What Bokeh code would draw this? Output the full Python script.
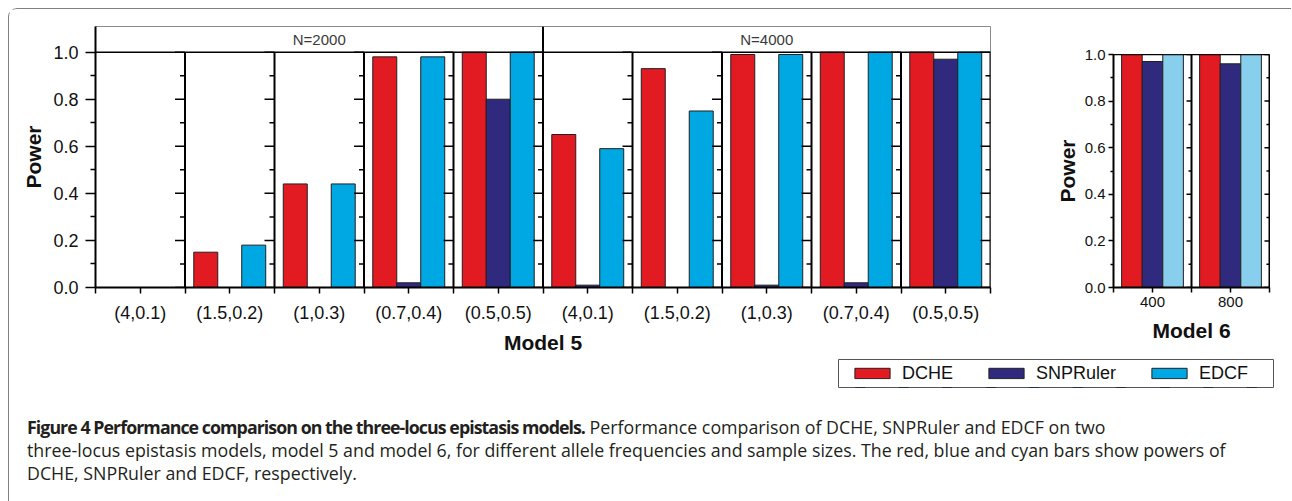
from bokeh.plotting import figure
from bokeh.models import (Range1d, FixedTicker, CustomJSTickFormatter, NumeralTickFormatter,
                          Span, Legend, LegendItem, Spacer, Div)
from bokeh.layouts import row, column
from bokeh.embed import file_html
from bokeh.resources import INLINE
from bokeh.core.properties import value

# ---------------- data ----------------
M5_GROUPS = ["N=2000", "N=4000"]
M5_PARAMS = ["(4,0.1)", "(1.5,0.2)", "(1,0.3)", "(0.7,0.4)", "(0.5,0.5)"]
M5_DCHE = [0.00, 0.15, 0.44, 0.98, 1.00, 0.65, 0.93, 0.99, 1.00, 1.00]
M5_SNPRULER = [0.00, 0.00, 0.00, 0.02, 0.80, 0.01, 0.00, 0.01, 0.02, 0.97]
M5_EDCF = [0.00, 0.18, 0.44, 0.98, 1.00, 0.59, 0.75, 0.99, 1.00, 1.00]

M6_SIZES = ["400", "800"]
M6_DCHE = [1.00, 1.00]
M6_SNPRULER = [0.97, 0.96]
M6_EDCF = [1.00, 1.00]

SERIES = ["DCHE", "SNPRuler", "EDCF"]
Y_TICKS = [0.0, 0.2, 0.4, 0.6, 0.8, 1.0]
Y_MINOR = [0.1, 0.3, 0.5, 0.7, 0.9]

# ---------------- style ----------------
FONT = "Liberation Sans"
RED = "#E21B22"
NAVY = "#2F2A7E"
CYAN = "#00A8E3"
SKY = "#88CFEE"
EDGE = "#231F20"
M5_COLORS = [RED, NAVY, CYAN]
M6_COLORS = [RED, NAVY, SKY]


def style_axes(p, tick_font, xlabel, x_tick_out, y_tick_out, y_minor_out,
               x_standoff, xl_standoff, y_standoff, yl_standoff):
    p.xgrid.visible = False
    p.ygrid.visible = False
    xa = p.xaxis[0]
    xa.major_tick_out = x_tick_out
    xa.major_tick_in = 0
    xa.minor_tick_line_color = None
    xa.axis_line_width = 2
    xa.major_tick_line_width = 1.5
    xa.major_label_text_font = FONT
    xa.major_label_text_font_size = tick_font
    xa.major_label_text_color = "#111111"
    xa.major_label_standoff = x_standoff
    xa.axis_label = xlabel
    xa.axis_label_text_font = FONT
    xa.axis_label_text_font_style = "bold"
    xa.axis_label_text_font_size = "21px"
    xa.axis_label_text_color = "#111111"
    xa.axis_label_standoff = xl_standoff
    ya = p.yaxis[0]
    ya.ticker = FixedTicker(ticks=Y_TICKS, minor_ticks=Y_MINOR)
    ya.formatter = NumeralTickFormatter(format="0.0")
    ya.major_tick_out = y_tick_out
    ya.major_tick_in = 0
    ya.minor_tick_out = y_minor_out
    ya.minor_tick_in = 0
    ya.axis_line_width = 2
    ya.major_tick_line_width = 1.5
    ya.minor_tick_line_width = 1.5
    ya.major_label_text_font = FONT
    ya.major_label_text_font_size = tick_font
    ya.major_label_text_color = "#111111"
    ya.major_label_standoff = y_standoff
    ya.axis_label = "Power"
    ya.axis_label_text_font = FONT
    ya.axis_label_text_font_style = "bold"
    ya.axis_label_text_font_size = "21px"
    ya.axis_label_text_color = "#111111"
    ya.axis_label_standoff = yl_standoff


def facet_panels(p, n, labels, series_vals, colors, bar_w, ppu, tick_len, minor_len):
    # bars (three series dodged inside each panel)
    rs = []
    for k, (vals, col) in enumerate(zip(series_vals, colors)):
        xs = [i + 0.5 + (k - 1) * bar_w for i in range(n)]
        rs.append(p.vbar(x=xs, top=vals, bottom=0, width=bar_w, fill_color=col,
                         line_color=EDGE, line_width=1))
    # panel borders with inward-pointing y ticks
    edges = list(range(1, n + 1))
    p.segment(x0=edges, y0=[0] * n, x1=edges, y1=[1] * n, line_color="black", line_width=2)
    tx0, tx1, ty = [], [], []
    for e in edges:
        for t in Y_TICKS:
            tx0.append(e); tx1.append(e - tick_len / ppu); ty.append(t)
        for t in Y_MINOR:
            tx0.append(e); tx1.append(e - minor_len / ppu); ty.append(t)
    p.segment(x0=tx0, y0=ty, x1=tx1, y1=ty, line_color="black", line_width=1.5)
    p.add_layout(Span(location=1.0, dimension="width", line_color="black", line_width=1.5))
    # x ticks at panel borders and centres, labels at centres
    xa = p.xaxis[0]
    xa.ticker = FixedTicker(ticks=[k * 0.5 for k in range(2 * n + 1)])
    xa.formatter = CustomJSTickFormatter(
        args=dict(labels=labels),
        code="const k = Math.round(tick * 2); return (k % 2 === 1) ? labels[(k - 1) / 2] : '';")
    return rs


# ---------------- Model 5 ----------------
n5 = len(M5_DCHE)
m5_labels = [prm for g in M5_GROUPS for prm in M5_PARAMS]
F5_W = 895
ppu5 = F5_W / n5
HEAD_TOP = 1.109

p5 = figure(width=991, height=348, x_range=Range1d(0, n5), y_range=Range1d(0, HEAD_TOP),
            min_border_left=86, min_border_right=10, min_border_top=17, min_border_bottom=70,
            output_backend="svg", toolbar_location=None, title=None,
            outline_line_color="#8a8a8a", outline_line_width=1)
style_axes(p5, "18px", "Model 5", 6, 10, 5, 9, 5, 7, 5)
facet_panels(p5, n5, m5_labels, [M5_DCHE, M5_SNPRULER, M5_EDCF], M5_COLORS,
             0.268, ppu5, 10, 5)
# header strip with sample-size groups
split = [len(M5_PARAMS) * g for g in range(1, len(M5_GROUPS))]
p5.segment(x0=split, y0=[1.0] * len(split), x1=split, y1=[HEAD_TOP] * len(split),
           line_color="black", line_width=2)
hx = [len(M5_PARAMS) * (g + 0.5) for g in range(len(M5_GROUPS))]
p5.text(x=hx, y=[(1.0 + HEAD_TOP) / 2] * len(hx), text=M5_GROUPS,
        text_align="center", text_baseline="middle", text_font=value(FONT),
        text_font_size=value("15px"), text_color="#3a3a3a")

# ---------------- Model 6 ----------------
n6 = len(M6_DCHE)
F6_W = 156
ppu6 = F6_W / n6
p6 = figure(width=274, height=320, x_range=Range1d(0, n6), y_range=Range1d(0, 1.0),
            min_border_left=113, min_border_right=5, min_border_top=17, min_border_bottom=70,
            output_backend="svg", toolbar_location=None, title=None,
            outline_line_color="black", outline_line_width=1)
style_axes(p6, "15px", "Model 6", 5, 5, 3, 4, 9, 3, 3)
facet_panels(p6, n6, M6_SIZES, [M6_DCHE, M6_SNPRULER, M6_EDCF], M6_COLORS,
             0.264, ppu6, 5, 3)

# ---------------- legend ----------------
# legend strip: its renderers hold the Model 5 series, but the strip's y range
# lies above them, so only the legend box is visible here
pl = figure(width=437, height=31, x_range=Range1d(0, n5), y_range=Range1d(2, 3),
            min_border_left=1, min_border_right=1, min_border_top=2, min_border_bottom=1,
            x_axis_type=None, y_axis_type=None, output_backend="svg", toolbar_location=None,
            title=None, outline_line_color="#555555", outline_line_width=1)
rs = [pl.vbar(x=[i + 0.5 for i in range(n5)], top=vals, width=0.2, fill_color=c,
              line_color=EDGE, line_width=1)
      for vals, c in zip([M5_DCHE, M5_SNPRULER, M5_EDCF], M5_COLORS)]
legend = Legend(items=[LegendItem(label=value(s), renderers=[r], index=0)
                       for s, r in zip(SERIES, rs)],
                orientation="horizontal", location="center_left", margin=12, padding=4,
                spacing=31, glyph_width=44, glyph_height=13, label_standoff=8,
                label_text_font=FONT, label_text_font_size="18px", label_text_color="#111111",
                border_line_color=None, background_fill_alpha=0)
pl.add_layout(legend)

# ---------------- caption ----------------
caption_html = (
    "<div style=\"font-family:'Open Sans',sans-serif; font-size:17.8px; line-height:23px; "
    "color:#231F20; white-space:nowrap; padding:23px 0 0 13px;\">"
    "<span style=\"font-weight:700; letter-spacing:-0.95px;\">"
    "Figure 4 Performance comparison on the three-locus epistasis models.</span> "
    "Performance comparison of DCHE, SNPRuler and EDCF on two<br>"
    "three-locus epistasis models, model 5 and model 6, for different allele frequencies "
    "and sample sizes. The red, blue and cyan bars show powers of<br>"
    "DCHE, SNPRuler and EDCF, respectively."
    "</div>"
)
cap = Div(text=caption_html, width=1265, height=110)

root = column(
    row(p5, column(Spacer(width=274, height=28), p6), Spacer(width=17, height=10)),
    row(Spacer(width=828, height=31), pl),
    cap,
    margin=(8, 0, 0, 8),
    styles={"border-left": "1px solid #808080", "border-top": "1px solid #808080",
            "border-top-left-radius": "9px"},
)

open("out.html", "w").write(file_html(root, INLINE))
